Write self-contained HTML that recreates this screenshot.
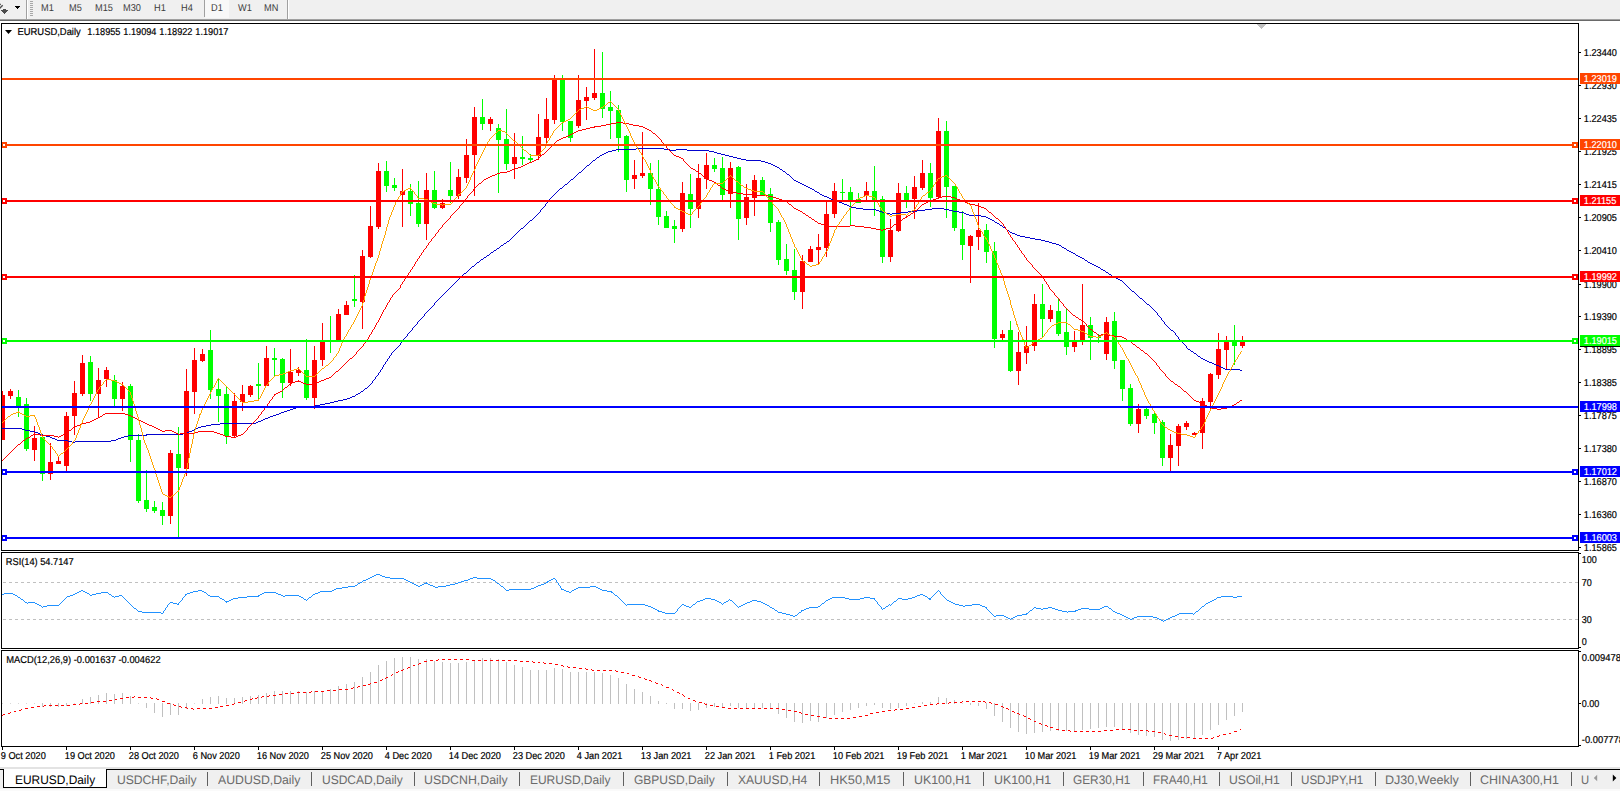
<!DOCTYPE html><html><head><meta charset="utf-8"><title>EURUSD,Daily</title><style>
html,body{margin:0;padding:0;background:#fff;}
body{width:1620px;height:791px;overflow:hidden;position:relative;font-family:"Liberation Sans",sans-serif;text-rendering:geometricPrecision;}
#tb{position:absolute;left:0;top:0;width:1620px;height:19px;z-index:2;}
#tb span{position:absolute;top:2px;transform:translateY(0.6px) scaleX(0.92);transform-origin:0 9px;font-size:10px;line-height:11px;color:#3c3c3c;white-space:nowrap;}
#tabs{position:absolute;left:0;top:767px;width:1620px;height:24px;z-index:2;}
#tabs span{position:absolute;top:5.7px;transform-origin:0 0;font-size:12.4px;line-height:14px;color:#6a6a6a;white-space:nowrap;}
#tabs span.a{color:#000;}
svg{position:absolute;left:0;top:0;}
svg text{font-family:"Liberation Sans",sans-serif;font-size:10px;fill:#000;stroke:#000;stroke-width:0.2px;text-rendering:geometricPrecision;}
</style></head><body>
<div id="tb">
<span style="left:41.0px">M1</span>
<span style="left:69.0px">M5</span>
<span style="left:95.3px">M15</span>
<span style="left:123.4px">M30</span>
<span style="left:154.2px">H1</span>
<span style="left:181.2px">H4</span>
<span style="left:210.5px">D1</span>
<span style="left:237.5px">W1</span>
<span style="left:264.2px">MN</span>
</div>
<div id="tabs">
<span class="a" style="left:14.8px;transform:scaleX(0.961814)">EURUSD,Daily</span>
<span style="left:116.5px;transform:scaleX(0.977923)">USDCHF,Daily</span>
<span style="left:217.5px;transform:scaleX(0.989294)">AUDUSD,Daily</span>
<span style="left:321.9px;transform:scaleX(0.969395)">USDCAD,Daily</span>
<span style="left:424.2px;transform:scaleX(0.996875)">USDCNH,Daily</span>
<span style="left:530.2px;transform:scaleX(0.965604)">EURUSD,Daily</span>
<span style="left:634.2px;transform:scaleX(0.969395)">GBPUSD,Daily</span>
<span style="left:737.5px;transform:scaleX(0.97508)">XAUUSD,H4</span>
<span style="left:830.2px;transform:scaleX(1.03288)">HK50,M15</span>
<span style="left:913.5px;transform:scaleX(0.999718)">UK100,H1</span>
<span style="left:993.5px;transform:scaleX(0.999718)">UK100,H1</span>
<span style="left:1073.2px;transform:scaleX(0.956128)">GER30,H1</span>
<span style="left:1152.5px;transform:scaleX(0.946652)">FRA40,H1</span>
<span style="left:1228.5px;transform:scaleX(0.982661)">USOil,H1</span>
<span style="left:1300.9px;transform:scaleX(0.936229)">USDJPY,H1</span>
<span style="left:1385.2px;transform:scaleX(1.01393)">DJ30,Weekly</span>
<span style="left:1480.2px;transform:scaleX(1.00635)">CHINA300,H1</span>
<span style="left:1580.9px;transform:scaleX(0.904958)">U</span>
</div>
<svg width="1620" height="791" viewBox="0 0 1620 791">
<g shape-rendering="crispEdges">
<rect x="0" y="0" width="1620" height="19" fill="#f0f0f0"/>
<rect x="0" y="767" width="1620" height="24" fill="#f0f0f0"/>
<rect x="0" y="19" width="1620" height="1" fill="#a0a0a0"/>
<rect x="0" y="20" width="1620" height="1" fill="#696969"/>
<rect x="0" y="21" width="1620" height="2" fill="#fff"/>
<rect x="26" y="0" width="1" height="19" fill="#a0a0a0"/>
<rect x="27" y="0" width="1" height="19" fill="#fff"/>
<rect x="287" y="0" width="1" height="19" fill="#a0a0a0"/>
<rect x="288" y="0" width="1" height="19" fill="#fff"/>
<rect x="205" y="0" width="24" height="18" fill="#f8f8f8"/>
<rect x="204" y="0" width="1" height="17" fill="#a0a0a0"/>
<rect x="30" y="1" width="3" height="1" fill="#a8a8a8"/>
<rect x="30" y="3" width="3" height="1" fill="#a8a8a8"/>
<rect x="30" y="5" width="3" height="1" fill="#a8a8a8"/>
<rect x="30" y="7" width="3" height="1" fill="#a8a8a8"/>
<rect x="30" y="9" width="3" height="1" fill="#a8a8a8"/>
<rect x="30" y="11" width="3" height="1" fill="#a8a8a8"/>
<rect x="30" y="13" width="3" height="1" fill="#a8a8a8"/>
<rect x="30" y="15" width="3" height="1" fill="#a8a8a8"/>
<path d="M1 10.3 H8.2 L4.6 14.3 Z M3 9 H6.2 V10.5 H3 Z" fill="#4d4d4d"/><path shape-rendering="geometricPrecision" d="M-0.5 8.6 L2.7 5.3 M-0.5 4.3 L0.9 4.5" stroke="#4d4d4d" stroke-width="1.4" fill="none"/>
<path d="M14.8 6 H20.3 L17.55 9.3 Z" fill="#000"/>
<rect x="2" y="391" width="1" height="49" fill="#ff0000"/>
<rect x="2" y="395" width="3" height="45" fill="#ff0000"/>
<rect x="10" y="389" width="1" height="10" fill="#ff0000"/>
<rect x="8" y="391" width="5" height="5" fill="#ff0000"/>
<rect x="18" y="390" width="1" height="27" fill="#00ff00"/>
<rect x="16" y="397" width="5" height="9" fill="#00ff00"/>
<rect x="26" y="398" width="1" height="53" fill="#00ff00"/>
<rect x="24" y="404" width="5" height="45" fill="#00ff00"/>
<rect x="34" y="426" width="1" height="35" fill="#ff0000"/>
<rect x="32" y="438" width="5" height="12" fill="#ff0000"/>
<rect x="42" y="437" width="1" height="44" fill="#00ff00"/>
<rect x="40" y="437" width="5" height="37" fill="#00ff00"/>
<rect x="50" y="443" width="1" height="37" fill="#ff0000"/>
<rect x="48" y="462" width="5" height="12" fill="#ff0000"/>
<rect x="58" y="456" width="1" height="8" fill="#ff0000"/>
<rect x="56" y="461" width="5" height="3" fill="#ff0000"/>
<rect x="66" y="412" width="1" height="59" fill="#ff0000"/>
<rect x="64" y="416" width="5" height="50" fill="#ff0000"/>
<rect x="74" y="381" width="1" height="54" fill="#ff0000"/>
<rect x="72" y="393" width="5" height="23" fill="#ff0000"/>
<rect x="82" y="355" width="1" height="41" fill="#ff0000"/>
<rect x="80" y="363" width="5" height="31" fill="#ff0000"/>
<rect x="90" y="356" width="1" height="45" fill="#00ff00"/>
<rect x="88" y="362" width="5" height="32" fill="#00ff00"/>
<rect x="98" y="368" width="1" height="49" fill="#ff0000"/>
<rect x="96" y="380" width="5" height="14" fill="#ff0000"/>
<rect x="106" y="367" width="1" height="20" fill="#ff0000"/>
<rect x="104" y="370" width="5" height="9" fill="#ff0000"/>
<rect x="114" y="375" width="1" height="31" fill="#00ff00"/>
<rect x="112" y="380" width="5" height="19" fill="#00ff00"/>
<rect x="122" y="382" width="1" height="29" fill="#ff0000"/>
<rect x="120" y="386" width="5" height="13" fill="#ff0000"/>
<rect x="130" y="384" width="1" height="78" fill="#00ff00"/>
<rect x="128" y="386" width="5" height="54" fill="#00ff00"/>
<rect x="138" y="434" width="1" height="69" fill="#00ff00"/>
<rect x="136" y="440" width="5" height="61" fill="#00ff00"/>
<rect x="146" y="470" width="1" height="42" fill="#00ff00"/>
<rect x="144" y="500" width="5" height="9" fill="#00ff00"/>
<rect x="154" y="501" width="1" height="12" fill="#00ff00"/>
<rect x="152" y="507" width="5" height="4" fill="#00ff00"/>
<rect x="162" y="502" width="1" height="23" fill="#00ff00"/>
<rect x="160" y="510" width="5" height="6" fill="#00ff00"/>
<rect x="170" y="450" width="1" height="74" fill="#ff0000"/>
<rect x="168" y="453" width="5" height="63" fill="#ff0000"/>
<rect x="178" y="427" width="1" height="110" fill="#00ff00"/>
<rect x="176" y="454" width="5" height="14" fill="#00ff00"/>
<rect x="186" y="369" width="1" height="107" fill="#ff0000"/>
<rect x="184" y="391" width="5" height="78" fill="#ff0000"/>
<rect x="194" y="348" width="1" height="66" fill="#ff0000"/>
<rect x="192" y="360" width="5" height="32" fill="#ff0000"/>
<rect x="202" y="349" width="1" height="13" fill="#ff0000"/>
<rect x="200" y="354" width="5" height="7" fill="#ff0000"/>
<rect x="210" y="330" width="1" height="69" fill="#00ff00"/>
<rect x="208" y="350" width="5" height="40" fill="#00ff00"/>
<rect x="218" y="379" width="1" height="43" fill="#00ff00"/>
<rect x="216" y="389" width="5" height="7" fill="#00ff00"/>
<rect x="226" y="386" width="1" height="58" fill="#00ff00"/>
<rect x="224" y="394" width="5" height="42" fill="#00ff00"/>
<rect x="234" y="393" width="1" height="44" fill="#ff0000"/>
<rect x="232" y="401" width="5" height="35" fill="#ff0000"/>
<rect x="242" y="385" width="1" height="26" fill="#ff0000"/>
<rect x="240" y="394" width="5" height="8" fill="#ff0000"/>
<rect x="250" y="385" width="1" height="12" fill="#ff0000"/>
<rect x="248" y="386" width="5" height="9" fill="#ff0000"/>
<rect x="258" y="363" width="1" height="36" fill="#00ff00"/>
<rect x="256" y="384" width="5" height="2" fill="#00ff00"/>
<rect x="266" y="346" width="1" height="40" fill="#ff0000"/>
<rect x="264" y="358" width="5" height="28" fill="#ff0000"/>
<rect x="274" y="348" width="1" height="28" fill="#00ff00"/>
<rect x="272" y="358" width="5" height="2" fill="#00ff00"/>
<rect x="282" y="358" width="1" height="40" fill="#00ff00"/>
<rect x="280" y="359" width="5" height="24" fill="#00ff00"/>
<rect x="290" y="349" width="1" height="37" fill="#ff0000"/>
<rect x="288" y="372" width="5" height="11" fill="#ff0000"/>
<rect x="298" y="367" width="1" height="9" fill="#ff0000"/>
<rect x="296" y="370" width="5" height="3" fill="#ff0000"/>
<rect x="306" y="339" width="1" height="61" fill="#00ff00"/>
<rect x="304" y="370" width="5" height="28" fill="#00ff00"/>
<rect x="314" y="346" width="1" height="63" fill="#ff0000"/>
<rect x="312" y="360" width="5" height="38" fill="#ff0000"/>
<rect x="322" y="323" width="1" height="43" fill="#ff0000"/>
<rect x="320" y="342" width="5" height="18" fill="#ff0000"/>
<rect x="330" y="316" width="1" height="37" fill="#00ff00"/>
<rect x="328" y="340" width="5" height="2" fill="#00ff00"/>
<rect x="338" y="309" width="1" height="32" fill="#ff0000"/>
<rect x="336" y="314" width="5" height="27" fill="#ff0000"/>
<rect x="346" y="301" width="1" height="14" fill="#ff0000"/>
<rect x="344" y="305" width="5" height="10" fill="#ff0000"/>
<rect x="354" y="275" width="1" height="32" fill="#00ff00"/>
<rect x="352" y="299" width="5" height="2" fill="#00ff00"/>
<rect x="362" y="250" width="1" height="79" fill="#ff0000"/>
<rect x="360" y="256" width="5" height="46" fill="#ff0000"/>
<rect x="370" y="206" width="1" height="52" fill="#ff0000"/>
<rect x="368" y="226" width="5" height="31" fill="#ff0000"/>
<rect x="378" y="163" width="1" height="66" fill="#ff0000"/>
<rect x="376" y="171" width="5" height="56" fill="#ff0000"/>
<rect x="386" y="161" width="1" height="31" fill="#00ff00"/>
<rect x="384" y="171" width="5" height="15" fill="#00ff00"/>
<rect x="394" y="178" width="1" height="13" fill="#00ff00"/>
<rect x="392" y="185" width="5" height="3" fill="#00ff00"/>
<rect x="402" y="169" width="1" height="58" fill="#ff0000"/>
<rect x="400" y="191" width="5" height="4" fill="#ff0000"/>
<rect x="410" y="184" width="1" height="32" fill="#00ff00"/>
<rect x="408" y="191" width="5" height="13" fill="#00ff00"/>
<rect x="418" y="181" width="1" height="46" fill="#00ff00"/>
<rect x="416" y="203" width="5" height="21" fill="#00ff00"/>
<rect x="426" y="173" width="1" height="67" fill="#ff0000"/>
<rect x="424" y="190" width="5" height="34" fill="#ff0000"/>
<rect x="434" y="171" width="1" height="38" fill="#00ff00"/>
<rect x="432" y="190" width="5" height="18" fill="#00ff00"/>
<rect x="442" y="199" width="1" height="10" fill="#ff0000"/>
<rect x="440" y="203" width="5" height="5" fill="#ff0000"/>
<rect x="450" y="162" width="1" height="41" fill="#00ff00"/>
<rect x="448" y="190" width="5" height="6" fill="#00ff00"/>
<rect x="458" y="169" width="1" height="30" fill="#ff0000"/>
<rect x="456" y="177" width="5" height="19" fill="#ff0000"/>
<rect x="466" y="139" width="1" height="44" fill="#ff0000"/>
<rect x="464" y="155" width="5" height="23" fill="#ff0000"/>
<rect x="474" y="107" width="1" height="89" fill="#ff0000"/>
<rect x="472" y="117" width="5" height="38" fill="#ff0000"/>
<rect x="482" y="99" width="1" height="31" fill="#00ff00"/>
<rect x="480" y="117" width="5" height="7" fill="#00ff00"/>
<rect x="490" y="117" width="1" height="14" fill="#ff0000"/>
<rect x="488" y="119" width="5" height="5" fill="#ff0000"/>
<rect x="498" y="124" width="1" height="69" fill="#00ff00"/>
<rect x="496" y="128" width="5" height="12" fill="#00ff00"/>
<rect x="506" y="109" width="1" height="61" fill="#00ff00"/>
<rect x="504" y="139" width="5" height="25" fill="#00ff00"/>
<rect x="514" y="133" width="1" height="46" fill="#ff0000"/>
<rect x="512" y="157" width="5" height="7" fill="#ff0000"/>
<rect x="522" y="136" width="1" height="29" fill="#00ff00"/>
<rect x="520" y="157" width="5" height="2" fill="#00ff00"/>
<rect x="530" y="154" width="1" height="8" fill="#00ff00"/>
<rect x="528" y="158" width="5" height="2" fill="#00ff00"/>
<rect x="538" y="114" width="1" height="46" fill="#ff0000"/>
<rect x="536" y="137" width="5" height="19" fill="#ff0000"/>
<rect x="546" y="98" width="1" height="48" fill="#ff0000"/>
<rect x="544" y="119" width="5" height="19" fill="#ff0000"/>
<rect x="554" y="75" width="1" height="49" fill="#ff0000"/>
<rect x="552" y="79" width="5" height="41" fill="#ff0000"/>
<rect x="562" y="75" width="1" height="56" fill="#00ff00"/>
<rect x="560" y="80" width="5" height="42" fill="#00ff00"/>
<rect x="570" y="121" width="1" height="21" fill="#00ff00"/>
<rect x="568" y="121" width="5" height="17" fill="#00ff00"/>
<rect x="578" y="75" width="1" height="53" fill="#ff0000"/>
<rect x="576" y="100" width="5" height="26" fill="#ff0000"/>
<rect x="586" y="87" width="1" height="33" fill="#ff0000"/>
<rect x="584" y="97" width="5" height="4" fill="#ff0000"/>
<rect x="594" y="49" width="1" height="51" fill="#ff0000"/>
<rect x="592" y="93" width="5" height="5" fill="#ff0000"/>
<rect x="602" y="52" width="1" height="66" fill="#00ff00"/>
<rect x="600" y="93" width="5" height="16" fill="#00ff00"/>
<rect x="610" y="91" width="1" height="48" fill="#00ff00"/>
<rect x="608" y="107" width="5" height="4" fill="#00ff00"/>
<rect x="618" y="105" width="1" height="47" fill="#00ff00"/>
<rect x="616" y="110" width="5" height="28" fill="#00ff00"/>
<rect x="626" y="135" width="1" height="57" fill="#00ff00"/>
<rect x="624" y="136" width="5" height="44" fill="#00ff00"/>
<rect x="634" y="160" width="1" height="29" fill="#ff0000"/>
<rect x="632" y="175" width="5" height="4" fill="#ff0000"/>
<rect x="642" y="132" width="1" height="46" fill="#ff0000"/>
<rect x="640" y="173" width="5" height="3" fill="#ff0000"/>
<rect x="650" y="163" width="1" height="42" fill="#00ff00"/>
<rect x="648" y="173" width="5" height="16" fill="#00ff00"/>
<rect x="658" y="160" width="1" height="65" fill="#00ff00"/>
<rect x="656" y="189" width="5" height="28" fill="#00ff00"/>
<rect x="666" y="211" width="1" height="17" fill="#00ff00"/>
<rect x="664" y="216" width="5" height="12" fill="#00ff00"/>
<rect x="674" y="220" width="1" height="23" fill="#00ff00"/>
<rect x="672" y="226" width="5" height="3" fill="#00ff00"/>
<rect x="682" y="182" width="1" height="50" fill="#ff0000"/>
<rect x="680" y="193" width="5" height="36" fill="#ff0000"/>
<rect x="690" y="174" width="1" height="54" fill="#00ff00"/>
<rect x="688" y="194" width="5" height="15" fill="#00ff00"/>
<rect x="698" y="164" width="1" height="54" fill="#ff0000"/>
<rect x="696" y="178" width="5" height="31" fill="#ff0000"/>
<rect x="706" y="153" width="1" height="36" fill="#ff0000"/>
<rect x="704" y="165" width="5" height="14" fill="#ff0000"/>
<rect x="714" y="158" width="1" height="14" fill="#00ff00"/>
<rect x="712" y="165" width="5" height="4" fill="#00ff00"/>
<rect x="722" y="157" width="1" height="43" fill="#00ff00"/>
<rect x="720" y="168" width="5" height="27" fill="#00ff00"/>
<rect x="730" y="162" width="1" height="46" fill="#ff0000"/>
<rect x="728" y="168" width="5" height="26" fill="#ff0000"/>
<rect x="738" y="166" width="1" height="74" fill="#00ff00"/>
<rect x="736" y="167" width="5" height="52" fill="#00ff00"/>
<rect x="746" y="184" width="1" height="41" fill="#ff0000"/>
<rect x="744" y="197" width="5" height="21" fill="#ff0000"/>
<rect x="754" y="175" width="1" height="41" fill="#ff0000"/>
<rect x="752" y="180" width="5" height="18" fill="#ff0000"/>
<rect x="762" y="177" width="1" height="18" fill="#00ff00"/>
<rect x="760" y="180" width="5" height="15" fill="#00ff00"/>
<rect x="770" y="188" width="1" height="44" fill="#00ff00"/>
<rect x="768" y="194" width="5" height="29" fill="#00ff00"/>
<rect x="778" y="220" width="1" height="45" fill="#00ff00"/>
<rect x="776" y="222" width="5" height="38" fill="#00ff00"/>
<rect x="786" y="244" width="1" height="31" fill="#00ff00"/>
<rect x="784" y="259" width="5" height="12" fill="#00ff00"/>
<rect x="794" y="249" width="1" height="51" fill="#00ff00"/>
<rect x="792" y="270" width="5" height="22" fill="#00ff00"/>
<rect x="802" y="255" width="1" height="54" fill="#ff0000"/>
<rect x="800" y="261" width="5" height="31" fill="#ff0000"/>
<rect x="810" y="246" width="1" height="16" fill="#ff0000"/>
<rect x="808" y="249" width="5" height="13" fill="#ff0000"/>
<rect x="818" y="234" width="1" height="30" fill="#ff0000"/>
<rect x="816" y="247" width="5" height="3" fill="#ff0000"/>
<rect x="826" y="202" width="1" height="55" fill="#ff0000"/>
<rect x="824" y="214" width="5" height="34" fill="#ff0000"/>
<rect x="834" y="183" width="1" height="35" fill="#ff0000"/>
<rect x="832" y="191" width="5" height="23" fill="#ff0000"/>
<rect x="842" y="179" width="1" height="23" fill="#00ff00"/>
<rect x="840" y="192" width="5" height="1" fill="#00ff00"/>
<rect x="850" y="187" width="1" height="38" fill="#00ff00"/>
<rect x="848" y="192" width="5" height="10" fill="#00ff00"/>
<rect x="858" y="193" width="1" height="10" fill="#00ff00"/>
<rect x="856" y="199" width="5" height="4" fill="#00ff00"/>
<rect x="866" y="182" width="1" height="18" fill="#ff0000"/>
<rect x="864" y="191" width="5" height="5" fill="#ff0000"/>
<rect x="874" y="166" width="1" height="50" fill="#00ff00"/>
<rect x="872" y="191" width="5" height="9" fill="#00ff00"/>
<rect x="882" y="196" width="1" height="67" fill="#00ff00"/>
<rect x="880" y="199" width="5" height="58" fill="#00ff00"/>
<rect x="890" y="219" width="1" height="43" fill="#ff0000"/>
<rect x="888" y="230" width="5" height="27" fill="#ff0000"/>
<rect x="898" y="183" width="1" height="49" fill="#ff0000"/>
<rect x="896" y="193" width="5" height="38" fill="#ff0000"/>
<rect x="906" y="186" width="1" height="22" fill="#00ff00"/>
<rect x="904" y="193" width="5" height="9" fill="#00ff00"/>
<rect x="914" y="176" width="1" height="43" fill="#ff0000"/>
<rect x="912" y="187" width="5" height="12" fill="#ff0000"/>
<rect x="922" y="160" width="1" height="30" fill="#ff0000"/>
<rect x="920" y="173" width="5" height="15" fill="#ff0000"/>
<rect x="930" y="163" width="1" height="44" fill="#00ff00"/>
<rect x="928" y="173" width="5" height="25" fill="#00ff00"/>
<rect x="938" y="118" width="1" height="81" fill="#ff0000"/>
<rect x="936" y="131" width="5" height="66" fill="#ff0000"/>
<rect x="946" y="121" width="1" height="97" fill="#00ff00"/>
<rect x="944" y="131" width="5" height="56" fill="#00ff00"/>
<rect x="954" y="186" width="1" height="45" fill="#00ff00"/>
<rect x="952" y="186" width="5" height="42" fill="#00ff00"/>
<rect x="962" y="211" width="1" height="49" fill="#00ff00"/>
<rect x="960" y="229" width="5" height="16" fill="#00ff00"/>
<rect x="970" y="235" width="1" height="48" fill="#ff0000"/>
<rect x="968" y="236" width="5" height="10" fill="#ff0000"/>
<rect x="978" y="203" width="1" height="47" fill="#ff0000"/>
<rect x="976" y="230" width="5" height="7" fill="#ff0000"/>
<rect x="986" y="224" width="1" height="39" fill="#00ff00"/>
<rect x="984" y="230" width="5" height="22" fill="#00ff00"/>
<rect x="994" y="242" width="1" height="106" fill="#00ff00"/>
<rect x="992" y="251" width="5" height="88" fill="#00ff00"/>
<rect x="1002" y="330" width="1" height="10" fill="#ff0000"/>
<rect x="1000" y="334" width="5" height="4" fill="#ff0000"/>
<rect x="1010" y="321" width="1" height="51" fill="#00ff00"/>
<rect x="1008" y="330" width="5" height="41" fill="#00ff00"/>
<rect x="1018" y="332" width="1" height="53" fill="#ff0000"/>
<rect x="1016" y="352" width="5" height="19" fill="#ff0000"/>
<rect x="1026" y="326" width="1" height="38" fill="#ff0000"/>
<rect x="1024" y="346" width="5" height="7" fill="#ff0000"/>
<rect x="1034" y="294" width="1" height="57" fill="#ff0000"/>
<rect x="1032" y="304" width="5" height="42" fill="#ff0000"/>
<rect x="1042" y="284" width="1" height="53" fill="#00ff00"/>
<rect x="1040" y="304" width="5" height="15" fill="#00ff00"/>
<rect x="1050" y="305" width="1" height="17" fill="#ff0000"/>
<rect x="1048" y="310" width="5" height="9" fill="#ff0000"/>
<rect x="1058" y="298" width="1" height="38" fill="#00ff00"/>
<rect x="1056" y="311" width="5" height="23" fill="#00ff00"/>
<rect x="1066" y="309" width="1" height="46" fill="#00ff00"/>
<rect x="1064" y="332" width="5" height="15" fill="#00ff00"/>
<rect x="1074" y="331" width="1" height="21" fill="#ff0000"/>
<rect x="1072" y="342" width="5" height="5" fill="#ff0000"/>
<rect x="1082" y="284" width="1" height="61" fill="#ff0000"/>
<rect x="1080" y="325" width="5" height="15" fill="#ff0000"/>
<rect x="1090" y="317" width="1" height="43" fill="#00ff00"/>
<rect x="1088" y="325" width="5" height="13" fill="#00ff00"/>
<rect x="1098" y="334" width="1" height="9" fill="#00ff00"/>
<rect x="1096" y="337" width="5" height="1" fill="#00ff00"/>
<rect x="1106" y="317" width="1" height="43" fill="#ff0000"/>
<rect x="1104" y="322" width="5" height="32" fill="#ff0000"/>
<rect x="1114" y="312" width="1" height="57" fill="#00ff00"/>
<rect x="1112" y="321" width="5" height="40" fill="#00ff00"/>
<rect x="1122" y="360" width="1" height="41" fill="#00ff00"/>
<rect x="1120" y="360" width="5" height="29" fill="#00ff00"/>
<rect x="1130" y="384" width="1" height="42" fill="#00ff00"/>
<rect x="1128" y="388" width="5" height="36" fill="#00ff00"/>
<rect x="1138" y="404" width="1" height="29" fill="#ff0000"/>
<rect x="1136" y="409" width="5" height="15" fill="#ff0000"/>
<rect x="1146" y="408" width="1" height="11" fill="#00ff00"/>
<rect x="1144" y="409" width="5" height="7" fill="#00ff00"/>
<rect x="1154" y="412" width="1" height="22" fill="#00ff00"/>
<rect x="1152" y="414" width="5" height="9" fill="#00ff00"/>
<rect x="1162" y="420" width="1" height="46" fill="#00ff00"/>
<rect x="1160" y="422" width="5" height="36" fill="#00ff00"/>
<rect x="1170" y="434" width="1" height="37" fill="#ff0000"/>
<rect x="1168" y="445" width="5" height="13" fill="#ff0000"/>
<rect x="1178" y="424" width="1" height="42" fill="#ff0000"/>
<rect x="1176" y="426" width="5" height="20" fill="#ff0000"/>
<rect x="1186" y="421" width="1" height="9" fill="#ff0000"/>
<rect x="1184" y="423" width="5" height="4" fill="#ff0000"/>
<rect x="1194" y="432" width="1" height="3" fill="#ff0000"/>
<rect x="1192" y="433" width="5" height="2" fill="#ff0000"/>
<rect x="1202" y="398" width="1" height="51" fill="#ff0000"/>
<rect x="1200" y="401" width="5" height="32" fill="#ff0000"/>
<rect x="1210" y="373" width="1" height="38" fill="#ff0000"/>
<rect x="1208" y="374" width="5" height="28" fill="#ff0000"/>
<rect x="1218" y="333" width="1" height="46" fill="#ff0000"/>
<rect x="1216" y="349" width="5" height="26" fill="#ff0000"/>
<rect x="1226" y="336" width="1" height="33" fill="#ff0000"/>
<rect x="1224" y="342" width="5" height="8" fill="#ff0000"/>
<rect x="1234" y="325" width="1" height="40" fill="#00ff00"/>
<rect x="1232" y="342" width="5" height="4" fill="#00ff00"/>
<rect x="1242" y="336" width="1" height="12" fill="#ff0000"/>
<rect x="1240" y="342" width="5" height="4" fill="#ff0000"/>
</g>
<path fill="none" stroke="#0000cd" stroke-width="0.99" shape-rendering="crispEdges" d="M2.1 428.5L20.4 428.2M19.6 428.1L26.8 430.5M26.0 430.3L34.9 431.8M34.1 431.5L42.9 435.0M42.1 434.7L50.8 437.4M50.0 437.1L57.4 440.2M56.6 440.0L66.9 440.6M66.1 440.5L73.4 442.4M72.6 442.4L78.8 441.2M78.0 441.3L110.5 441.3M109.6 441.4L116.4 439.9M115.6 440.2L122.9 437.1M122.1 437.4L130.9 435.3M130.1 435.4L138.8 435.2M138.0 435.2L146.9 435.0M146.1 435.0L154.9 434.2M154.1 434.2L162.9 435.0M162.1 435.0L170.8 434.2M170.0 434.2L178.9 434.8M178.1 434.9L186.9 433.2M186.1 433.5L194.8 429.6M194.0 430.0L200.4 427.0M199.6 427.3L213.0 424.6M212.2 424.7L226.8 423.4M226.0 423.4L256.0 423.2M255.2 423.4L266.9 418.2M266.1 418.6L282.8 412.5M282.0 412.9L298.9 406.8M298.1 407.0L314.9 406.0M314.1 406.1L330.4 402.9M329.6 403.1L338.8 400.9M338.0 401.1L346.9 399.1M346.1 399.4L354.9 396.1M354.1 396.5L362.9 391.0M362.1 391.5L370.8 384.6M370.1 385.3L378.8 373.7M378.3 374.5L386.7 361.1M386.2 361.9L394.7 349.6M394.1 350.3L400.3 343.5M399.7 344.1L410.3 331.7M409.7 332.3L420.3 319.7M419.7 320.3L430.3 308.7M429.7 309.3L440.3 297.7M439.7 298.3L450.3 287.7M449.7 288.3L460.3 277.7M459.7 278.3L470.3 268.7M469.6 269.3L480.4 260.7M479.6 261.3L490.4 253.7M489.6 254.3L500.4 246.7M499.6 247.3L510.6 239.7M509.9 240.3L518.7 231.4M518.1 232.0L527.5 223.7M526.9 224.3L535.1 216.8M534.5 217.4L542.8 208.6M542.2 209.3L550.3 199.0M549.7 199.7L558.8 190.3M558.1 190.9L566.9 183.9M566.2 184.5L574.8 177.0M574.2 177.6L582.8 170.0M582.2 170.6L590.7 163.1M590.0 163.7L598.9 156.8M598.1 157.3L606.9 152.4M606.1 152.7L614.9 150.0M614.1 150.2L622.9 149.1M622.0 149.2L635.0 149.2M634.1 149.2L642.9 148.4M642.0 148.4L662.2 148.4M661.3 148.3L666.9 149.8M666.1 149.7L674.9 150.4M674.1 150.5L679.8 149.1M678.9 149.2L686.2 149.2M685.3 149.0L688.7 150.6M687.8 150.4L707.0 150.4M706.1 150.3L714.8 152.3M714.0 152.1L722.9 154.6M722.1 154.4L730.9 156.5M730.1 156.3L738.9 158.6M738.1 158.4L746.9 160.3M746.1 160.2L758.8 160.4M758.0 160.3L766.9 162.5M766.1 162.2L774.9 165.7M774.1 165.3L782.9 170.5M782.1 170.0L790.8 176.5M790.1 175.9L794.8 180.4M794.1 179.9L802.9 184.4M802.1 184.0L810.9 188.2M810.1 187.8L820.4 194.0M819.6 193.6L826.9 197.2M826.1 196.8L834.9 200.8M834.1 200.5L842.9 203.2M842.1 202.9L850.9 207.1M850.1 206.8L858.9 208.5M858.1 208.3L866.9 209.5M866.0 209.4L875.0 209.4M874.1 209.3L882.9 212.3M882.1 212.1L890.9 214.3M890.1 214.3L898.9 213.1M898.1 213.3L906.9 212.1M906.1 212.3L914.9 211.2M914.1 211.4L922.9 210.3M922.1 210.5L930.9 209.1M930.1 209.3L938.9 208.1M938.1 208.1L946.9 209.5M946.1 209.3L954.9 211.4M954.1 211.2L962.9 212.7M962.1 212.4L970.9 215.7M970.0 215.5L979.0 215.5M978.1 215.4L986.9 217.1M986.1 216.8L994.9 221.6M994.1 221.2L1002.9 226.7M1002.1 226.2L1010.9 232.5M1010.1 232.0L1018.9 235.9M1018.1 235.6L1030.4 238.1M1029.6 237.9L1041.1 240.1M1040.3 239.9L1050.9 242.6M1050.1 242.4L1058.9 244.9M1058.1 244.6L1066.9 249.7M1066.1 249.3L1074.9 254.1M1074.1 253.7L1082.9 258.5M1082.1 258.1L1090.9 263.6M1090.1 263.2L1098.9 267.4M1098.1 267.0L1106.9 272.4M1106.1 272.0L1114.9 277.5M1114.1 277.1L1122.9 281.3M1122.2 280.8L1130.8 289.6M1130.2 289.0L1138.8 296.6M1138.2 296.0L1146.8 303.5M1146.2 302.9L1154.8 310.7M1154.2 310.1L1161.7 319.1M1161.1 318.5L1172.8 330.5M1172.2 329.8L1180.8 340.9M1180.2 340.2L1188.8 349.5M1188.1 348.9L1202.9 359.0M1202.1 358.5L1210.9 362.7M1210.1 362.3L1218.9 366.1M1218.1 365.7L1226.3 369.4M1225.5 369.2L1238.9 369.4M1238.1 369.2L1242.1 370.9"/>
<path fill="none" stroke="#ff0000" stroke-width="0.99" shape-rendering="crispEdges" d="M2.2 461.2L7.9 455.5M7.3 456.1L15.3 447.3M14.6 447.9L24.4 440.3M23.6 440.8L34.9 433.8M34.1 433.9L42.9 435.5M42.1 435.4L50.8 435.0M50.0 434.9L58.9 437.4M58.1 437.5L66.9 432.8M66.1 433.3L74.9 426.9M74.1 427.4L82.8 423.8M82.0 424.1L90.9 421.9M90.1 422.2L98.9 417.5M98.1 417.9L106.8 413.1M106.0 413.3L114.9 413.0M114.1 413.0L122.9 413.3M122.1 413.2L130.9 416.0M130.1 415.7L138.8 419.8M138.0 419.4L146.9 424.2M146.1 423.8L154.9 427.2M154.1 426.8L162.9 431.5M162.1 431.4L170.8 430.3M170.0 430.2L178.9 434.4M178.1 434.2L186.9 433.5M186.1 433.5L194.8 433.0M194.0 433.1L200.4 431.3M199.6 431.4L213.0 431.4M212.2 431.2L226.8 436.5M226.0 436.2L234.9 437.7M234.1 437.8L242.9 434.0M242.2 434.5L250.7 425.7M250.1 426.3L258.8 416.7M258.2 417.4L266.8 406.0M266.2 406.8L274.8 394.6M274.1 395.2L282.8 390.4M282.1 390.9L290.8 383.3M290.1 383.7L298.9 380.9M298.1 380.8L306.8 384.4M305.9 384.2L314.9 384.2M314.1 384.4L322.9 380.3M322.1 380.7L330.9 377.1M330.2 377.6L338.7 370.0M338.1 370.6L346.8 362.5M346.2 363.1L354.8 354.9M354.2 355.5L362.8 346.0M362.2 346.7L367.2 340.1M366.7 340.9L378.7 320.6M378.3 321.4L386.7 305.3M386.3 306.1L394.6 292.6M394.1 293.3L400.3 286.5M399.7 287.2L410.3 271.6M409.8 272.4L420.2 255.6M419.7 256.4L431.8 239.6M431.2 240.4L442.8 225.6M442.2 226.3L450.7 216.8M450.1 217.4L458.8 208.0M458.2 208.7L466.8 197.8M466.2 198.5L474.8 188.4M474.2 189.0L483.3 180.4M482.6 180.9L491.0 176.7M490.2 177.1L498.9 172.9M498.1 173.2L506.9 172.1M506.1 172.4L514.9 169.1M514.1 169.5L522.8 166.3M522.0 166.7L530.9 162.3M530.1 162.7L538.9 158.5M538.2 159.0L546.7 151.1M546.1 151.7L554.8 142.9M554.1 143.5L559.2 139.7M558.4 140.2L570.9 134.6M570.1 135.0L578.8 130.8M578.0 131.1L586.9 128.8M586.1 129.0L594.9 126.9M594.1 127.1L602.9 125.6M602.1 125.8L610.8 124.0M610.0 124.2L618.9 122.3M618.1 122.3L626.9 123.5M626.1 123.3L634.9 125.4M634.1 125.2L642.9 126.8M642.1 126.5L650.9 130.7M650.2 130.2L658.8 137.7M658.2 137.1L666.8 147.4M666.2 146.8L674.8 155.4M674.1 154.9L682.9 159.1M682.2 158.6L690.8 168.0M690.1 167.5L698.9 172.4M698.2 171.9L706.8 179.4M706.1 178.9L714.8 182.2M714.0 181.7L722.9 188.3M722.1 187.8L726.6 190.2M725.8 189.9L738.9 193.6M738.1 193.4L746.9 194.5M746.1 194.4L754.9 195.1M754.1 195.1L762.9 195.3M762.1 195.2L770.8 196.4M770.0 196.2L778.9 198.9M778.1 198.7L786.9 201.7M786.2 201.3L794.8 208.6M794.1 208.1L802.9 212.7M802.1 212.3L810.9 218.0M810.1 217.6L818.9 223.3M818.1 223.0L826.9 226.0M826.1 225.9L834.9 226.7M834.0 226.7L843.0 226.7M842.1 226.7L850.9 225.9M850.1 225.9L858.9 226.1M858.1 226.0L866.9 227.5M866.1 227.3L874.9 228.7M874.1 228.5L882.9 230.4M882.1 230.4L890.9 227.6M890.1 228.0L898.9 221.8M898.1 222.3L906.9 216.8M906.1 217.2L914.9 211.7M914.2 212.2L922.8 204.1M922.1 204.6L930.9 201.0M930.1 201.4L938.9 197.6M938.1 197.9L946.9 196.0M946.1 196.0L954.9 197.9M954.1 197.6L962.9 201.4M962.1 201.0L970.9 204.3M970.1 204.0L978.9 205.7M978.1 205.4L986.9 209.6M986.2 209.1L994.8 216.7M994.2 216.1L1002.8 223.6M1002.3 222.9L1010.7 236.4M1010.2 235.6L1018.8 247.9M1018.2 247.1L1026.8 259.4M1026.2 258.7L1034.8 268.7M1034.2 268.1L1042.8 277.0M1042.3 276.3L1050.7 289.7M1050.2 289.0L1058.8 299.1M1058.2 298.4L1066.8 309.3M1066.2 308.6L1074.8 316.2M1074.1 315.7L1082.9 321.1M1082.2 320.6L1090.8 329.4M1090.1 328.8L1098.9 335.4M1098.1 335.1L1106.9 334.8M1106.1 334.7L1114.9 336.2M1114.1 336.0L1122.9 337.2M1122.1 336.9L1130.9 342.2M1130.1 341.7L1138.9 348.0M1138.1 347.4L1146.9 354.3M1146.2 353.7L1154.8 361.9M1154.2 361.2L1162.8 372.1M1162.2 371.4L1170.8 380.9M1170.1 380.3L1180.9 387.9M1180.2 387.3L1188.8 394.8M1188.2 394.2L1194.8 400.6M1194.1 400.1L1202.9 403.7M1202.1 403.3L1210.9 407.9M1210.1 407.6L1218.9 409.5M1218.1 409.5L1226.9 408.2M1226.1 408.5L1233.8 405.4M1233.0 405.9L1242.1 399.7"/>
<path fill="none" stroke="#ffa500" stroke-width="0.99" shape-rendering="crispEdges" d="M2.2 422.5L10.8 414.9M10.1 415.4L18.9 411.8M18.1 411.8L26.8 416.7M26.0 416.6L34.9 415.1M34.3 414.8L42.7 437.4M42.2 436.7L50.7 445.3M50.1 444.6L58.8 456.8M58.1 456.7L66.9 449.7M66.2 450.3L74.8 440.3M74.3 441.0L82.6 420.5M82.2 421.3L90.7 404.1M90.3 404.9L98.7 388.9M98.2 389.7L106.7 379.0M106.0 379.3L114.9 380.6M114.1 380.3L122.9 385.1M122.2 384.6L130.8 393.3M130.4 392.6L134.5 406.1M134.3 405.3L138.5 418.8M138.3 418.0L144.1 440.4M143.8 439.6L149.2 453.0M148.9 452.2L154.6 469.4M154.4 468.6L162.6 494.1M162.1 493.5L170.8 497.7M170.0 497.8L178.9 490.9M178.3 491.6L186.7 469.9M186.4 470.7L194.5 431.6M194.3 432.4L200.1 414.2M199.8 415.0L210.7 392.6M210.3 393.4L218.7 377.8M218.2 377.9L226.7 386.3M226.1 385.7L234.8 395.3M234.2 394.7L242.8 403.1M242.1 402.9L250.8 401.5M250.0 401.7L258.9 400.3M258.3 400.8L266.7 385.1M266.2 385.8L274.8 375.7M274.1 376.1L282.8 374.3M282.0 374.6L290.9 370.8M290.1 371.1L298.9 368.3M298.2 368.1L306.7 377.0M306.0 376.7L314.9 376.4M314.2 376.7L322.8 368.5M322.1 369.1L330.9 362.5M330.2 363.2L338.7 352.2M338.2 353.0L343.1 340.6M342.7 341.4L354.7 320.6M354.3 321.4L362.7 304.1M362.4 304.9L370.5 278.8M370.2 279.6L378.7 256.0M378.4 256.8L383.4 239.6M383.2 240.4L388.6 220.5M388.3 221.3L396.2 201.6M395.8 202.4L402.7 191.4M402.1 192.0L410.9 187.8M410.2 187.6L418.8 198.6M418.1 198.1L426.9 199.5M426.1 199.2L434.9 204.0M434.1 203.7L442.9 205.2M442.1 205.1L450.8 204.5M450.1 204.8L458.8 194.7M458.2 195.3L466.8 187.1M466.3 187.8L474.7 169.3M474.3 170.1L482.7 152.2M482.3 153.0L489.5 139.6M489.0 140.3L498.8 130.1M498.1 130.3L504.9 131.4M504.2 131.0L513.6 140.3M513.0 139.7L522.7 148.5M522.1 147.9L530.8 155.7M530.0 155.4L539.0 155.4M538.2 155.7L545.3 147.3M544.8 148.0L548.9 139.6M548.5 140.4L554.7 130.0M554.2 130.7L562.8 122.5M562.1 123.0L570.9 118.8M570.2 119.3L578.7 109.9M578.0 110.4L586.9 106.8M586.1 106.8L594.9 111.0M594.1 111.0L602.9 107.4M602.1 107.9L610.8 101.0M610.1 101.0L618.8 109.8M618.3 109.1L626.7 126.4M626.3 125.6L634.7 143.5M634.3 142.7L642.7 156.1M642.3 155.3L650.7 171.3M650.3 170.5L658.7 186.5M658.2 185.7L666.8 197.4M666.2 196.6L674.8 207.5M674.1 206.9L682.9 211.7M682.1 211.3L690.9 215.5M690.2 215.6L698.8 206.1M698.2 206.8L706.8 195.9M706.3 196.7L710.0 189.6M709.5 190.4L714.7 182.9M713.9 183.3L723.0 183.3M722.2 183.6L730.8 175.0M730.2 175.0L738.8 183.2M738.1 182.6L746.9 188.9M746.1 188.5L754.9 191.4M754.1 191.3L762.9 191.5M762.2 191.2L770.7 201.0M770.1 200.4L778.8 209.9M778.3 209.2L786.7 225.8M786.3 225.0L794.7 246.0M794.3 245.2L802.7 261.2M802.1 260.5L810.9 266.5M810.1 266.3L818.9 264.5M818.3 265.0L826.7 251.1M826.3 251.9L834.7 230.5M834.3 231.3L842.7 217.9M842.2 218.7L850.8 207.1M850.2 207.8L858.8 198.4M858.1 198.9L866.9 195.3M866.1 195.4L874.9 197.5M874.3 197.0L882.7 211.1M882.1 210.4L890.9 216.7M890.1 216.5L898.9 214.4M898.1 214.5L906.9 215.1M906.1 215.4L914.9 209.1M914.3 209.8L922.7 196.4M922.1 197.1L930.9 190.2M930.3 190.9L938.7 178.0M938.1 178.6L946.9 175.1M946.2 175.0L954.8 183.4M954.3 182.7L962.7 197.2M962.2 196.5L970.8 205.3M970.3 204.6L978.7 226.3M978.3 225.5L986.7 238.9M986.3 238.1L994.7 256.8M994.3 256.0L1002.7 277.1M1002.4 276.3L1010.6 302.3M1010.4 301.5L1018.6 328.9M1018.3 328.1L1023.2 339.9M1022.8 339.1L1026.7 348.7M1026.1 348.6L1034.9 341.7M1034.1 342.2L1042.9 337.6M1042.2 338.2L1050.8 326.8M1050.1 327.4L1058.9 322.2M1058.0 322.4L1067.0 322.4M1066.2 322.1L1074.8 329.4M1074.1 329.0L1082.9 331.4M1082.1 331.1L1090.9 336.7M1090.1 336.5L1098.9 337.3M1098.1 337.5L1106.9 332.7M1106.1 332.7L1114.9 337.5M1114.2 336.9L1122.8 349.4M1122.3 348.6L1130.7 364.5M1130.3 363.7L1138.7 379.7M1138.3 378.9L1146.7 398.9M1146.3 398.1L1154.7 412.5M1154.3 411.7L1162.7 425.4M1162.1 424.7L1170.9 430.8M1170.1 430.3L1178.9 433.8M1178.1 433.5L1186.9 435.0M1186.1 434.8L1194.9 437.5M1194.2 437.8L1202.8 426.3M1202.3 427.1L1210.7 409.8M1210.3 410.6L1218.7 393.6M1218.3 394.4L1226.7 376.6M1226.3 377.4L1234.7 362.1M1234.3 362.9L1241.9 350.7"/>
<g shape-rendering="crispEdges">
<rect x="2" y="78" width="1576" height="2" fill="#ff4500"/>
<rect x="2" y="144" width="1576" height="2" fill="#ff4500"/>
<rect x="1" y="142" width="6" height="6" fill="#ff4500"/>
<rect x="3" y="144" width="2" height="2" fill="#fff"/>
<rect x="1572" y="142" width="6" height="6" fill="#ff4500"/>
<rect x="1574" y="144" width="2" height="2" fill="#fff"/>
<rect x="2" y="200" width="1576" height="2" fill="#ff0000"/>
<rect x="1" y="198" width="6" height="6" fill="#ff0000"/>
<rect x="3" y="200" width="2" height="2" fill="#fff"/>
<rect x="1572" y="198" width="6" height="6" fill="#ff0000"/>
<rect x="1574" y="200" width="2" height="2" fill="#fff"/>
<rect x="2" y="276" width="1576" height="2" fill="#ff0000"/>
<rect x="1" y="274" width="6" height="6" fill="#ff0000"/>
<rect x="3" y="276" width="2" height="2" fill="#fff"/>
<rect x="1572" y="274" width="6" height="6" fill="#ff0000"/>
<rect x="1574" y="276" width="2" height="2" fill="#fff"/>
<rect x="2" y="340" width="1576" height="2" fill="#00ff00"/>
<rect x="1" y="338" width="6" height="6" fill="#00ff00"/>
<rect x="3" y="340" width="2" height="2" fill="#fff"/>
<rect x="1572" y="338" width="6" height="6" fill="#00ff00"/>
<rect x="1574" y="340" width="2" height="2" fill="#fff"/>
<rect x="2" y="406" width="1576" height="2" fill="#0000ff"/>
<rect x="2" y="471" width="1576" height="2" fill="#0000ff"/>
<rect x="1" y="469" width="6" height="6" fill="#0000ff"/>
<rect x="3" y="471" width="2" height="2" fill="#fff"/>
<rect x="1572" y="469" width="6" height="6" fill="#0000ff"/>
<rect x="1574" y="471" width="2" height="2" fill="#fff"/>
<rect x="2" y="537" width="1576" height="2" fill="#0000ff"/>
<rect x="1" y="535" width="6" height="6" fill="#0000ff"/>
<rect x="3" y="537" width="2" height="2" fill="#fff"/>
<rect x="1572" y="535" width="6" height="6" fill="#0000ff"/>
<rect x="1574" y="537" width="2" height="2" fill="#fff"/>
<rect x="1" y="23" width="1578" height="1" fill="#000"/>
<rect x="1" y="23" width="1" height="528" fill="#000"/>
<rect x="1578" y="23" width="1" height="528" fill="#000"/>
<rect x="1" y="550" width="1578" height="1" fill="#000"/>
<rect x="1" y="552" width="1578" height="1" fill="#000"/>
<rect x="1" y="552" width="1" height="97" fill="#000"/>
<rect x="1578" y="552" width="1" height="97" fill="#000"/>
<rect x="1" y="648" width="1578" height="1" fill="#000"/>
<rect x="1" y="650" width="1578" height="1" fill="#000"/>
<rect x="1" y="650" width="1" height="97" fill="#000"/>
<rect x="1578" y="650" width="1" height="97" fill="#000"/>
<rect x="1" y="746" width="1578" height="1" fill="#000"/>
<path d="M1257 24 H1266 L1261.5 29 Z" fill="#c0c0c0"/>
<rect x="1579" y="52" width="2" height="1" fill="#000"/>
<rect x="1579" y="85" width="2" height="1" fill="#000"/>
<rect x="1579" y="118" width="2" height="1" fill="#000"/>
<rect x="1579" y="151" width="2" height="1" fill="#000"/>
<rect x="1579" y="184" width="2" height="1" fill="#000"/>
<rect x="1579" y="217" width="2" height="1" fill="#000"/>
<rect x="1579" y="250" width="2" height="1" fill="#000"/>
<rect x="1579" y="284" width="2" height="1" fill="#000"/>
<rect x="1579" y="316" width="2" height="1" fill="#000"/>
<rect x="1579" y="349" width="2" height="1" fill="#000"/>
<rect x="1579" y="382" width="2" height="1" fill="#000"/>
<rect x="1579" y="415" width="2" height="1" fill="#000"/>
<rect x="1579" y="448" width="2" height="1" fill="#000"/>
<rect x="1579" y="481" width="2" height="1" fill="#000"/>
<rect x="1579" y="514" width="2" height="1" fill="#000"/>
<rect x="1579" y="547" width="2" height="1" fill="#000"/>
<rect x="1579" y="553" width="2" height="1" fill="#000"/>
<rect x="1579" y="647" width="2" height="1" fill="#000"/>
<rect x="1579" y="651" width="2" height="1" fill="#000"/>
<rect x="1579" y="703" width="2" height="1" fill="#000"/>
<rect x="1579" y="745" width="2" height="1" fill="#000"/>
<rect x="2" y="747" width="1" height="3" fill="#000"/>
<rect x="66" y="747" width="1" height="3" fill="#000"/>
<rect x="130" y="747" width="1" height="3" fill="#000"/>
<rect x="194" y="747" width="1" height="3" fill="#000"/>
<rect x="258" y="747" width="1" height="3" fill="#000"/>
<rect x="322" y="747" width="1" height="3" fill="#000"/>
<rect x="386" y="747" width="1" height="3" fill="#000"/>
<rect x="450" y="747" width="1" height="3" fill="#000"/>
<rect x="514" y="747" width="1" height="3" fill="#000"/>
<rect x="578" y="747" width="1" height="3" fill="#000"/>
<rect x="642" y="747" width="1" height="3" fill="#000"/>
<rect x="706" y="747" width="1" height="3" fill="#000"/>
<rect x="770" y="747" width="1" height="3" fill="#000"/>
<rect x="834" y="747" width="1" height="3" fill="#000"/>
<rect x="898" y="747" width="1" height="3" fill="#000"/>
<rect x="962" y="747" width="1" height="3" fill="#000"/>
<rect x="1026" y="747" width="1" height="3" fill="#000"/>
<rect x="1090" y="747" width="1" height="3" fill="#000"/>
<rect x="1154" y="747" width="1" height="3" fill="#000"/>
<rect x="1218" y="747" width="1" height="3" fill="#000"/>
<path d="M3 582.5 H1578" stroke="#c0c0c0" stroke-width="1" stroke-dasharray="3 3" fill="none"/>
<path d="M3 619.5 H1578" stroke="#c0c0c0" stroke-width="1" stroke-dasharray="3 3" fill="none"/>
<rect x="2" y="703" width="1" height="1" fill="#d8d8d8"/>
<rect x="10" y="703" width="1" height="1" fill="#d8d8d8"/>
<rect x="18" y="703" width="1" height="1" fill="#d8d8d8"/>
<rect x="26" y="703" width="1" height="1" fill="#d8d8d8"/>
<rect x="34" y="703" width="1" height="1" fill="#d8d8d8"/>
<rect x="42" y="703" width="1" height="4" fill="#c0c0c0"/>
<rect x="50" y="703" width="1" height="4" fill="#c0c0c0"/>
<rect x="58" y="703" width="1" height="4" fill="#c0c0c0"/>
<rect x="66" y="703" width="1" height="3" fill="#c0c0c0"/>
<rect x="74" y="703" width="1" height="1" fill="#d8d8d8"/>
<rect x="82" y="699" width="1" height="5" fill="#c0c0c0"/>
<rect x="90" y="697" width="1" height="7" fill="#c0c0c0"/>
<rect x="98" y="695" width="1" height="9" fill="#c0c0c0"/>
<rect x="106" y="693" width="1" height="11" fill="#c0c0c0"/>
<rect x="114" y="694" width="1" height="10" fill="#c0c0c0"/>
<rect x="122" y="693" width="1" height="11" fill="#c0c0c0"/>
<rect x="130" y="696" width="1" height="8" fill="#c0c0c0"/>
<rect x="138" y="703" width="1" height="1" fill="#d8d8d8"/>
<rect x="146" y="703" width="1" height="5" fill="#c0c0c0"/>
<rect x="154" y="703" width="1" height="10" fill="#c0c0c0"/>
<rect x="162" y="703" width="1" height="14" fill="#c0c0c0"/>
<rect x="170" y="703" width="1" height="12" fill="#c0c0c0"/>
<rect x="178" y="703" width="1" height="12" fill="#c0c0c0"/>
<rect x="186" y="703" width="1" height="6" fill="#c0c0c0"/>
<rect x="194" y="703" width="1" height="1" fill="#d8d8d8"/>
<rect x="202" y="699" width="1" height="5" fill="#c0c0c0"/>
<rect x="210" y="697" width="1" height="7" fill="#c0c0c0"/>
<rect x="218" y="696" width="1" height="8" fill="#c0c0c0"/>
<rect x="226" y="698" width="1" height="6" fill="#c0c0c0"/>
<rect x="234" y="698" width="1" height="6" fill="#c0c0c0"/>
<rect x="242" y="697" width="1" height="7" fill="#c0c0c0"/>
<rect x="250" y="696" width="1" height="8" fill="#c0c0c0"/>
<rect x="258" y="695" width="1" height="9" fill="#c0c0c0"/>
<rect x="266" y="693" width="1" height="11" fill="#c0c0c0"/>
<rect x="274" y="691" width="1" height="13" fill="#c0c0c0"/>
<rect x="282" y="691" width="1" height="13" fill="#c0c0c0"/>
<rect x="290" y="691" width="1" height="13" fill="#c0c0c0"/>
<rect x="298" y="691" width="1" height="13" fill="#c0c0c0"/>
<rect x="306" y="692" width="1" height="12" fill="#c0c0c0"/>
<rect x="314" y="691" width="1" height="13" fill="#c0c0c0"/>
<rect x="322" y="691" width="1" height="13" fill="#c0c0c0"/>
<rect x="330" y="689" width="1" height="15" fill="#c0c0c0"/>
<rect x="338" y="686" width="1" height="18" fill="#c0c0c0"/>
<rect x="346" y="684" width="1" height="20" fill="#c0c0c0"/>
<rect x="354" y="682" width="1" height="22" fill="#c0c0c0"/>
<rect x="362" y="677" width="1" height="27" fill="#c0c0c0"/>
<rect x="370" y="672" width="1" height="32" fill="#c0c0c0"/>
<rect x="378" y="665" width="1" height="39" fill="#c0c0c0"/>
<rect x="386" y="661" width="1" height="43" fill="#c0c0c0"/>
<rect x="394" y="658" width="1" height="46" fill="#c0c0c0"/>
<rect x="402" y="657" width="1" height="47" fill="#c0c0c0"/>
<rect x="410" y="657" width="1" height="47" fill="#c0c0c0"/>
<rect x="418" y="659" width="1" height="45" fill="#c0c0c0"/>
<rect x="426" y="659" width="1" height="45" fill="#c0c0c0"/>
<rect x="434" y="661" width="1" height="43" fill="#c0c0c0"/>
<rect x="442" y="662" width="1" height="42" fill="#c0c0c0"/>
<rect x="450" y="663" width="1" height="41" fill="#c0c0c0"/>
<rect x="458" y="663" width="1" height="41" fill="#c0c0c0"/>
<rect x="466" y="662" width="1" height="42" fill="#c0c0c0"/>
<rect x="474" y="660" width="1" height="44" fill="#c0c0c0"/>
<rect x="482" y="658" width="1" height="46" fill="#c0c0c0"/>
<rect x="490" y="658" width="1" height="46" fill="#c0c0c0"/>
<rect x="498" y="659" width="1" height="45" fill="#c0c0c0"/>
<rect x="506" y="662" width="1" height="42" fill="#c0c0c0"/>
<rect x="514" y="665" width="1" height="39" fill="#c0c0c0"/>
<rect x="522" y="667" width="1" height="37" fill="#c0c0c0"/>
<rect x="530" y="670" width="1" height="34" fill="#c0c0c0"/>
<rect x="538" y="670" width="1" height="34" fill="#c0c0c0"/>
<rect x="546" y="670" width="1" height="34" fill="#c0c0c0"/>
<rect x="554" y="668" width="1" height="36" fill="#c0c0c0"/>
<rect x="562" y="669" width="1" height="35" fill="#c0c0c0"/>
<rect x="570" y="672" width="1" height="32" fill="#c0c0c0"/>
<rect x="578" y="672" width="1" height="32" fill="#c0c0c0"/>
<rect x="586" y="672" width="1" height="32" fill="#c0c0c0"/>
<rect x="594" y="672" width="1" height="32" fill="#c0c0c0"/>
<rect x="602" y="673" width="1" height="31" fill="#c0c0c0"/>
<rect x="610" y="675" width="1" height="29" fill="#c0c0c0"/>
<rect x="618" y="678" width="1" height="26" fill="#c0c0c0"/>
<rect x="626" y="684" width="1" height="20" fill="#c0c0c0"/>
<rect x="634" y="689" width="1" height="15" fill="#c0c0c0"/>
<rect x="642" y="692" width="1" height="12" fill="#c0c0c0"/>
<rect x="650" y="696" width="1" height="8" fill="#c0c0c0"/>
<rect x="658" y="701" width="1" height="3" fill="#c0c0c0"/>
<rect x="666" y="703" width="1" height="1" fill="#c0c0c0"/>
<rect x="674" y="703" width="1" height="6" fill="#c0c0c0"/>
<rect x="682" y="703" width="1" height="6" fill="#c0c0c0"/>
<rect x="690" y="703" width="1" height="8" fill="#c0c0c0"/>
<rect x="698" y="703" width="1" height="7" fill="#c0c0c0"/>
<rect x="706" y="703" width="1" height="5" fill="#c0c0c0"/>
<rect x="714" y="703" width="1" height="4" fill="#c0c0c0"/>
<rect x="722" y="703" width="1" height="5" fill="#c0c0c0"/>
<rect x="730" y="703" width="1" height="3" fill="#c0c0c0"/>
<rect x="738" y="703" width="1" height="5" fill="#c0c0c0"/>
<rect x="746" y="703" width="1" height="5" fill="#c0c0c0"/>
<rect x="754" y="703" width="1" height="5" fill="#c0c0c0"/>
<rect x="762" y="703" width="1" height="5" fill="#c0c0c0"/>
<rect x="770" y="703" width="1" height="6" fill="#c0c0c0"/>
<rect x="778" y="703" width="1" height="11" fill="#c0c0c0"/>
<rect x="786" y="703" width="1" height="15" fill="#c0c0c0"/>
<rect x="794" y="703" width="1" height="19" fill="#c0c0c0"/>
<rect x="802" y="703" width="1" height="20" fill="#c0c0c0"/>
<rect x="810" y="703" width="1" height="18" fill="#c0c0c0"/>
<rect x="818" y="703" width="1" height="19" fill="#c0c0c0"/>
<rect x="826" y="703" width="1" height="15" fill="#c0c0c0"/>
<rect x="834" y="703" width="1" height="12" fill="#c0c0c0"/>
<rect x="842" y="703" width="1" height="9" fill="#c0c0c0"/>
<rect x="850" y="703" width="1" height="7" fill="#c0c0c0"/>
<rect x="858" y="703" width="1" height="5" fill="#c0c0c0"/>
<rect x="866" y="703" width="1" height="3" fill="#c0c0c0"/>
<rect x="874" y="703" width="1" height="2" fill="#c0c0c0"/>
<rect x="882" y="703" width="1" height="5" fill="#c0c0c0"/>
<rect x="890" y="703" width="1" height="6" fill="#c0c0c0"/>
<rect x="898" y="703" width="1" height="5" fill="#c0c0c0"/>
<rect x="906" y="703" width="1" height="3" fill="#c0c0c0"/>
<rect x="914" y="703" width="1" height="1" fill="#d8d8d8"/>
<rect x="922" y="702" width="1" height="2" fill="#c0c0c0"/>
<rect x="930" y="702" width="1" height="2" fill="#c0c0c0"/>
<rect x="938" y="697" width="1" height="7" fill="#c0c0c0"/>
<rect x="946" y="698" width="1" height="6" fill="#c0c0c0"/>
<rect x="954" y="700" width="1" height="4" fill="#c0c0c0"/>
<rect x="962" y="703" width="1" height="1" fill="#d8d8d8"/>
<rect x="970" y="703" width="1" height="2" fill="#c0c0c0"/>
<rect x="978" y="703" width="1" height="3" fill="#c0c0c0"/>
<rect x="986" y="703" width="1" height="6" fill="#c0c0c0"/>
<rect x="994" y="703" width="1" height="13" fill="#c0c0c0"/>
<rect x="1002" y="703" width="1" height="19" fill="#c0c0c0"/>
<rect x="1010" y="703" width="1" height="25" fill="#c0c0c0"/>
<rect x="1018" y="703" width="1" height="29" fill="#c0c0c0"/>
<rect x="1026" y="703" width="1" height="31" fill="#c0c0c0"/>
<rect x="1034" y="703" width="1" height="30" fill="#c0c0c0"/>
<rect x="1042" y="703" width="1" height="29" fill="#c0c0c0"/>
<rect x="1050" y="703" width="1" height="28" fill="#c0c0c0"/>
<rect x="1058" y="703" width="1" height="28" fill="#c0c0c0"/>
<rect x="1066" y="703" width="1" height="28" fill="#c0c0c0"/>
<rect x="1074" y="703" width="1" height="28" fill="#c0c0c0"/>
<rect x="1082" y="703" width="1" height="27" fill="#c0c0c0"/>
<rect x="1090" y="703" width="1" height="26" fill="#c0c0c0"/>
<rect x="1098" y="703" width="1" height="25" fill="#c0c0c0"/>
<rect x="1106" y="703" width="1" height="24" fill="#c0c0c0"/>
<rect x="1114" y="703" width="1" height="24" fill="#c0c0c0"/>
<rect x="1122" y="703" width="1" height="27" fill="#c0c0c0"/>
<rect x="1130" y="703" width="1" height="30" fill="#c0c0c0"/>
<rect x="1138" y="703" width="1" height="32" fill="#c0c0c0"/>
<rect x="1146" y="703" width="1" height="33" fill="#c0c0c0"/>
<rect x="1154" y="703" width="1" height="34" fill="#c0c0c0"/>
<rect x="1162" y="703" width="1" height="37" fill="#c0c0c0"/>
<rect x="1170" y="703" width="1" height="38" fill="#c0c0c0"/>
<rect x="1178" y="703" width="1" height="37" fill="#c0c0c0"/>
<rect x="1186" y="703" width="1" height="36" fill="#c0c0c0"/>
<rect x="1194" y="703" width="1" height="35" fill="#c0c0c0"/>
<rect x="1202" y="703" width="1" height="32" fill="#c0c0c0"/>
<rect x="1210" y="703" width="1" height="27" fill="#c0c0c0"/>
<rect x="1218" y="703" width="1" height="22" fill="#c0c0c0"/>
<rect x="1226" y="703" width="1" height="17" fill="#c0c0c0"/>
<rect x="1234" y="703" width="1" height="13" fill="#c0c0c0"/>
<rect x="1242" y="703" width="1" height="9" fill="#c0c0c0"/>
</g>
<path fill="none" stroke="#1e90ff" stroke-width="0.99" shape-rendering="crispEdges" d="M1.6 594.4L7.0 593.3M6.1 593.4L11.6 593.4M10.8 593.2L17.5 596.2M16.7 595.7L22.8 600.2M22.0 599.6L27.4 603.5M26.6 603.3L32.0 602.1M31.2 602.1L35.2 602.7M34.4 602.4L43.1 607.4M42.3 607.3L49.1 605.4M48.2 605.5L59.0 605.5M58.2 605.8L66.7 597.0M66.0 597.5L74.0 594.5M73.2 594.9L82.6 590.1M81.8 590.1L91.1 595.5M90.3 595.4L97.7 593.5M96.9 593.7L104.3 592.3M103.5 592.3L108.2 593.1M107.4 592.8L114.8 597.5M114.0 597.4L122.0 595.2M121.3 595.0L127.8 601.6M127.2 601.0L133.8 607.5M133.1 606.9L139.1 611.7M138.3 611.3L144.4 612.5M143.6 612.4L158.2 612.4M157.4 612.3L162.8 613.5M162.1 613.8L170.6 601.8M169.9 602.1L178.6 604.6M177.9 604.9L186.4 593.9M185.7 594.5L192.4 592.0M191.6 592.3L200.9 590.3M200.1 590.2L204.0 591.7M203.2 591.2L210.3 596.4M209.5 596.1L218.7 596.7M217.9 596.5L227.1 602.2M226.3 602.2L233.4 598.6M232.6 598.9L242.9 597.3M242.1 597.4L258.6 596.1M257.8 596.3L265.9 592.3M265.1 592.5L275.4 592.5M274.6 592.3L283.8 596.5M283.0 596.4L289.0 595.2M288.2 595.3L298.6 595.3M297.7 595.1L306.9 600.5M306.1 600.6L314.2 594.3M313.4 594.8L321.6 591.3M320.8 591.5L331.1 591.5M330.2 591.7L337.3 588.6M336.5 588.9L345.7 587.2M344.9 587.4L355.1 586.1M354.3 586.4L362.5 581.4M361.7 581.8L370.9 577.6M370.1 578.0L378.2 574.1M377.4 574.1L386.6 577.6M385.8 577.3L392.9 578.6M392.1 578.5L403.4 578.5M402.6 578.3L410.8 582.2M410.0 581.8L419.2 586.9M418.4 586.9L426.5 582.9M425.7 582.9L435.9 587.5M435.1 587.4L445.4 586.1M444.6 586.3L456.9 583.6M456.1 583.9L465.3 580.4M464.5 580.8L473.7 577.2M472.9 577.3L481.1 578.6M480.2 578.5L490.6 578.5M489.7 578.3L494.7 580.8M493.9 580.3L507.3 590.7M506.5 590.5L511.5 589.3M510.7 589.4L531.0 589.4M530.1 589.6L539.3 585.4M538.5 585.8L547.7 581.8M546.9 582.2L555.0 578.1M554.4 577.9L562.2 589.8M561.6 589.2L570.4 592.7M569.6 592.7L579.2 587.1M578.3 587.3L588.7 587.3M587.8 587.4L594.9 586.1M594.1 586.0L603.3 590.6M602.5 590.3L611.7 592.0M610.9 591.6L618.0 597.0M617.3 596.4L626.9 605.4M626.2 605.2L631.6 604.4M630.8 604.5L644.2 604.5M643.4 604.4L650.5 606.7M649.7 606.4L658.9 611.2M658.1 610.9L667.3 613.6M666.4 613.5L674.8 613.5M674.0 613.8L682.9 604.2M682.2 604.3L690.4 607.8M689.6 607.9L697.7 601.7M696.9 602.2L707.2 598.2M706.4 598.3L714.5 599.6M713.7 599.3L722.9 604.3M722.1 604.3L730.3 599.3M729.6 599.2L738.6 607.5M737.9 607.4L746.0 603.5M745.2 603.9L754.4 600.1M753.6 600.2L761.8 602.1M761.0 601.8L770.2 606.8M769.4 606.4L779.6 612.7M778.8 612.4L786.9 614.2M786.1 614.0L794.3 616.3M793.5 616.5L801.6 610.7M800.8 611.2L810.0 607.4M809.2 607.6L818.4 607.2M817.6 607.5L826.8 600.6M826.0 601.1L834.1 597.2M833.2 597.4L843.7 597.4M842.8 597.3L849.9 599.3M849.0 599.2L859.9 599.2M859.0 599.3L867.2 597.3M866.4 597.3L874.5 598.9M873.8 598.4L882.8 609.7M882.1 609.5L890.3 604.5M889.5 605.0L898.7 598.1M897.9 598.3L906.0 599.6M905.2 599.6L914.4 597.3M913.6 597.6L922.4 594.0M921.6 594.0L930.6 599.4M929.9 599.5L938.4 590.1M937.8 590.1L946.8 599.8M946.1 599.3L955.3 604.3M954.5 604.0L963.7 606.3M962.9 606.3L971.1 605.0M970.3 605.2L978.4 604.0M977.6 603.9L986.8 608.0M986.1 607.5L995.1 616.5M994.4 616.3L1002.6 615.1M1001.8 615.0L1010.9 619.6M1010.1 619.6L1018.3 615.4M1017.5 615.7L1026.7 614.0M1025.9 614.4L1035.1 607.3M1034.3 607.5L1042.4 609.4M1041.6 609.4L1050.8 607.5M1050.0 607.5L1059.2 610.5M1058.4 610.3L1067.6 612.1M1066.8 612.1L1076.0 610.9M1075.2 611.2L1083.4 608.1M1082.6 608.2L1091.7 609.4M1090.8 609.3L1099.2 609.3M1098.3 609.5L1106.9 606.0M1106.1 605.9L1115.9 612.8M1115.1 612.3L1123.2 615.4M1122.4 615.0L1131.6 619.6M1130.8 619.6L1139.0 616.0M1138.1 616.2L1150.5 616.2M1149.7 616.1L1156.8 617.8M1156.0 617.5L1163.5 621.5M1162.7 621.5L1171.5 617.5M1170.7 617.9L1178.8 613.9M1178.0 614.2L1183.4 613.0M1182.5 613.1L1189.9 613.1M1189.0 613.0L1194.0 614.2M1193.2 614.4L1199.3 609.7M1198.6 610.3L1205.5 604.4M1204.8 604.9L1211.9 601.1M1211.1 601.5L1218.2 597.6M1217.4 597.9L1223.4 596.2M1222.5 596.3L1230.9 596.3M1230.0 596.2L1235.0 597.5M1234.2 597.5L1242.3 596.0"/>
<polyline fill="none" stroke="#ff0000" stroke-width="0.99" stroke-dasharray="3 3" shape-rendering="crispEdges" points="2.0,715.2 16.3,711.1 32.6,707.1 50.9,705.4 67.2,705.4 85.6,703.4 105.9,701.0 122.2,698.5 134.4,696.9 146.7,697.3 156.9,698.9 167.0,703.0 179.3,706.7 193.5,709.1 207.8,708.7 220.0,706.7 234.3,704.0 250.6,699.3 264.8,696.5 285.2,693.8 305.6,692.4 320.0,691.4 332.2,690.4 346.5,689.4 362.8,686.1 377.0,682.2 387.2,677.5 399.4,671.4 411.7,666.7 425.9,661.2 442.2,659.6 466.7,659.6 474.8,660.6 515.6,660.6 523.7,661.6 538.0,662.3 546.1,663.3 556.3,664.3 566.5,666.9 584.8,668.8 595.0,670.4 613.3,670.4 625.6,673.1 637.8,676.5 650.2,680.6 664.4,686.1 676.7,691.8 688.9,698.5 693.0,700.6 701.1,702.4 707.2,705.0 721.5,707.1 729.6,708.5 778.5,708.5 794.8,711.1 803.0,713.6 817.2,716.2 831.5,718.3 849.8,718.3 866.1,715.6 872.2,713.2 890.6,710.7 908.9,708.1 925.2,705.6 937.4,704.0 953.7,702.6 970.0,701.4 980.4,701.4 988.5,702.4 1000.7,705.6 1010.9,710.7 1023.1,715.8 1035.4,721.7 1043.5,725.0 1057.8,729.5 1074.1,731.5 1100.6,731.5 1106.7,730.5 1123.0,729.5 1139.3,730.5 1155.6,731.5 1163.7,733.6 1175.9,736.6 1192.2,738.0 1212.6,738.0 1220.7,735.6 1233.0,732.5 1241.1,729.1"/>
<text transform="translate(1583.8,56) scale(0.9168,1)" xml:space="preserve">1.23440</text>
<text transform="translate(1583.8,89) scale(0.9168,1)" xml:space="preserve">1.22930</text>
<text transform="translate(1583.8,122) scale(0.9168,1)" xml:space="preserve">1.22435</text>
<text transform="translate(1583.8,155) scale(0.9168,1)" xml:space="preserve">1.21925</text>
<text transform="translate(1583.8,188) scale(0.9168,1)" xml:space="preserve">1.21415</text>
<text transform="translate(1583.8,221) scale(0.9168,1)" xml:space="preserve">1.20905</text>
<text transform="translate(1583.8,254) scale(0.9168,1)" xml:space="preserve">1.20410</text>
<text transform="translate(1583.8,288) scale(0.9168,1)" xml:space="preserve">1.19900</text>
<text transform="translate(1583.8,320) scale(0.9168,1)" xml:space="preserve">1.19390</text>
<text transform="translate(1583.8,353) scale(0.9168,1)" xml:space="preserve">1.18895</text>
<text transform="translate(1583.8,386) scale(0.9168,1)" xml:space="preserve">1.18385</text>
<text transform="translate(1583.8,419) scale(0.9168,1)" xml:space="preserve">1.17875</text>
<text transform="translate(1583.8,452) scale(0.9168,1)" xml:space="preserve">1.17380</text>
<text transform="translate(1583.8,485) scale(0.9168,1)" xml:space="preserve">1.16870</text>
<text transform="translate(1583.8,518) scale(0.9168,1)" xml:space="preserve">1.16360</text>
<text transform="translate(1583.8,551) scale(0.9168,1)" xml:space="preserve">1.15865</text>
<g shape-rendering="crispEdges">
<rect x="1580" y="73" width="40" height="11" fill="#ff4500"/>
<rect x="1580" y="139" width="40" height="11" fill="#ff4500"/>
<rect x="1580" y="195" width="40" height="11" fill="#ff0000"/>
<rect x="1580" y="271" width="40" height="11" fill="#ff0000"/>
<rect x="1580" y="335" width="40" height="12" fill="#000"/>
<rect x="1580" y="335" width="40" height="11" fill="#00ff00"/>
<rect x="1580" y="401" width="40" height="11" fill="#0000ff"/>
<rect x="1580" y="466" width="40" height="11" fill="#0000ff"/>
<rect x="1580" y="532" width="40" height="11" fill="#0000ff"/>
</g>
<text transform="translate(1583.8,82) scale(0.9168,1)" style="fill:#fff;stroke:#fff" xml:space="preserve">1.23019</text>
<text transform="translate(1583.8,148) scale(0.9168,1)" style="fill:#fff;stroke:#fff" xml:space="preserve">1.22010</text>
<text transform="translate(1583.8,204) scale(0.9168,1)" style="fill:#fff;stroke:#fff" xml:space="preserve">1.21155</text>
<text transform="translate(1583.8,280) scale(0.9168,1)" style="fill:#fff;stroke:#fff" xml:space="preserve">1.19992</text>
<text transform="translate(1583.8,344) scale(0.9168,1)" style="fill:#fff;stroke:#fff" xml:space="preserve">1.19015</text>
<text transform="translate(1583.8,410) scale(0.9168,1)" style="fill:#fff;stroke:#fff" xml:space="preserve">1.17998</text>
<text transform="translate(1583.8,475) scale(0.9168,1)" style="fill:#fff;stroke:#fff" xml:space="preserve">1.17012</text>
<text transform="translate(1583.8,541) scale(0.9168,1)" style="fill:#fff;stroke:#fff" xml:space="preserve">1.16003</text>
<text transform="translate(17.5,35) scale(0.9408,1)" xml:space="preserve">EURUSD,Daily</text>
<text transform="translate(87.3,35) scale(0.9168,1)" xml:space="preserve">1.18955</text>
<text transform="translate(123.3,35) scale(0.9168,1)" xml:space="preserve">1.19094</text>
<text transform="translate(159.3,35) scale(0.9168,1)" xml:space="preserve">1.18922</text>
<text transform="translate(195.3,35) scale(0.9168,1)" xml:space="preserve">1.19017</text>
<path d="M5 30 H12 L8.5 34 Z" fill="#000"/>
<text transform="translate(5.8,565) scale(0.92448,1)" xml:space="preserve">RSI(14) 54.7147</text>
<text transform="translate(6.2,662.6) scale(0.93504,1)" xml:space="preserve">MACD(12,26,9) -0.001637 -0.004622</text>
<text transform="translate(1581.8,563) scale(0.9024,1)" xml:space="preserve">100</text>
<text transform="translate(1581.8,586) scale(0.9024,1)" xml:space="preserve">70</text>
<text transform="translate(1581.8,623) scale(0.9024,1)" xml:space="preserve">30</text>
<text transform="translate(1581.8,645) scale(0.9024,1)" xml:space="preserve">0</text>
<text transform="translate(1581.8,660.7) scale(0.936,1)" xml:space="preserve">0.009478</text>
<text transform="translate(1581.8,707) scale(0.9024,1)" xml:space="preserve">0.00</text>
<text transform="translate(1581.8,743.2) scale(0.936,1)" xml:space="preserve">-0.007778</text>
<text transform="translate(0.8,759) scale(0.91872,1)" xml:space="preserve">9 Oct 2020</text>
<text transform="translate(64.8,759) scale(0.91872,1)" xml:space="preserve">19 Oct 2020</text>
<text transform="translate(128.8,759) scale(0.91872,1)" xml:space="preserve">28 Oct 2020</text>
<text transform="translate(192.8,759) scale(0.91872,1)" xml:space="preserve">6 Nov 2020</text>
<text transform="translate(256.8,759) scale(0.91872,1)" xml:space="preserve">16 Nov 2020</text>
<text transform="translate(320.8,759) scale(0.91872,1)" xml:space="preserve">25 Nov 2020</text>
<text transform="translate(384.8,759) scale(0.91872,1)" xml:space="preserve">4 Dec 2020</text>
<text transform="translate(448.8,759) scale(0.91872,1)" xml:space="preserve">14 Dec 2020</text>
<text transform="translate(512.8,759) scale(0.91872,1)" xml:space="preserve">23 Dec 2020</text>
<text transform="translate(576.8,759) scale(0.91872,1)" xml:space="preserve">4 Jan 2021</text>
<text transform="translate(640.8,759) scale(0.91872,1)" xml:space="preserve">13 Jan 2021</text>
<text transform="translate(704.8,759) scale(0.91872,1)" xml:space="preserve">22 Jan 2021</text>
<text transform="translate(768.8,759) scale(0.91872,1)" xml:space="preserve">1 Feb 2021</text>
<text transform="translate(832.8,759) scale(0.91872,1)" xml:space="preserve">10 Feb 2021</text>
<text transform="translate(896.8,759) scale(0.91872,1)" xml:space="preserve">19 Feb 2021</text>
<text transform="translate(960.8,759) scale(0.91872,1)" xml:space="preserve">1 Mar 2021</text>
<text transform="translate(1024.8,759) scale(0.91872,1)" xml:space="preserve">10 Mar 2021</text>
<text transform="translate(1088.8,759) scale(0.91872,1)" xml:space="preserve">19 Mar 2021</text>
<text transform="translate(1152.8,759) scale(0.91872,1)" xml:space="preserve">29 Mar 2021</text>
<text transform="translate(1216.8,759) scale(0.91872,1)" xml:space="preserve">7 Apr 2021</text>
<g shape-rendering="crispEdges">
<rect x="0" y="767" width="1620" height="2" fill="#e3e3e3"/>
<rect x="0" y="769" width="4" height="1" fill="#000"/>
<rect x="106" y="769" width="1514" height="1" fill="#000"/>
<rect x="4" y="769" width="102" height="19" fill="#fff"/>
<rect x="3" y="769" width="1" height="19" fill="#000"/>
<rect x="106" y="769" width="1" height="19" fill="#000"/>
<rect x="3" y="787" width="104" height="1" fill="#000"/>
<rect x="207" y="772" width="1" height="14" fill="#606060"/>
<rect x="311" y="772" width="1" height="14" fill="#606060"/>
<rect x="414" y="772" width="1" height="14" fill="#606060"/>
<rect x="519" y="772" width="1" height="14" fill="#606060"/>
<rect x="623" y="772" width="1" height="14" fill="#606060"/>
<rect x="727" y="772" width="1" height="14" fill="#606060"/>
<rect x="819" y="772" width="1" height="14" fill="#606060"/>
<rect x="903" y="772" width="1" height="14" fill="#606060"/>
<rect x="983" y="772" width="1" height="14" fill="#606060"/>
<rect x="1063" y="772" width="1" height="14" fill="#606060"/>
<rect x="1143" y="772" width="1" height="14" fill="#606060"/>
<rect x="1219" y="772" width="1" height="14" fill="#606060"/>
<rect x="1291" y="772" width="1" height="14" fill="#606060"/>
<rect x="1375" y="772" width="1" height="14" fill="#606060"/>
<rect x="1470" y="772" width="1" height="14" fill="#606060"/>
<rect x="1571" y="772" width="1" height="14" fill="#606060"/>
<rect x="0" y="789" width="1620" height="2" fill="#fafafa"/>
</g>
<path d="M1597.2 774.8 L1593.8 778 L1597.2 781.2 Z" fill="#9a9a9a"/>
<path d="M1612.8 774.6 L1616.4 778 L1612.8 781.4 Z" fill="#000"/>
</svg></body></html>
